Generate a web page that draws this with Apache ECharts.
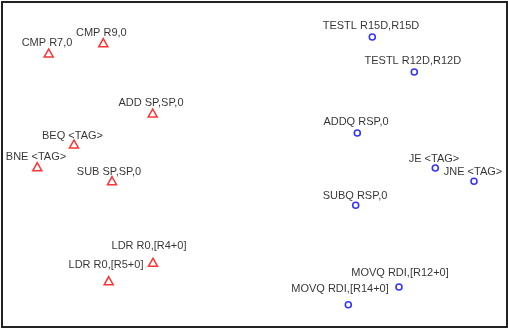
<!DOCTYPE html>
<html>
<head>
<meta charset="utf-8">
<script src="https://cdn.jsdelivr.net/npm/echarts@6/dist/echarts.min.js"></script>
<style>
  html, body { margin: 0; padding: 0; background: #fff; }
  #main { width: 508px; height: 330px; }
</style>
</head>
<body>
<div id="main"></div>
<script>
// ARM instructions (red triangles)
var armNames = ['CMP R7,0', 'CMP R9,0', 'ADD SP,SP,0', 'BEQ <TAG>', 'BNE <TAG>', 'SUB SP,SP,0', 'LDR R0,[R4+0]', 'LDR R0,[R5+0]']
var armX = [46.7, 101.3, 150.7, 72, 35.3, 110, 151, 106.7]
var armY = [274, 284.3, 214, 183, 160.3, 146.3, 64.7, 46.3]
var armLabelX = [45, 99.3, 149, 70.5, 34, 107, 147, 104]
var armLabelY = [284, 294, 224, 191.5, 170, 155.3, 81.3, 62.3]

// x86 instructions (blue circles)
var x86Names = ['TESTL R15D,R15D', 'TESTL R12D,R12D', 'ADDQ RSP,0', 'JE <TAG>', 'JNE <TAG>', 'SUBQ RSP,0', 'MOVQ RDI,[R12+0]', 'MOVQ RDI,[R14+0]']
var x86X = [370.3, 412.3, 355.3, 433.3, 472, 353.7, 397, 346.3]
var x86Y = [290, 255, 194, 159, 145.7, 121.7, 40, 22.3]
var x86LabelX = [369, 410.8, 354, 432, 471, 353, 398, 338]
var x86LabelY = [301.5, 266.5, 204.7, 168.3, 155, 131.3, 54.3, 37.7]

function points(xs, ys) {
    return xs.map(function (x, i) { return [x, ys[i]] })
}
function labelPoints(xs, ys, names) {
    return xs.map(function (x, i) { return { value: [x, ys[i]], name: names[i] } })
}

var chart = echarts.init(document.getElementById('main'))
var labelStyle = {
    show: true,
    position: 'inside',
    formatter: '{b}',
    color: '#000',
    fontSize: 11,
    fontFamily: 'Liberation Sans, Arial, sans-serif',
}
var option = {
    animation: false,
    grid: {
        left: 2,
        right: 1,
        top: 2,
        bottom: 3,
        show: true,
        borderColor: '#222',
        borderWidth: 2,
    },
    xAxis: {
        type: 'value',
        min: 0,
        max: 505,
        show: false,
    },
    yAxis: {
        type: 'value',
        min: 0,
        max: 325,
        show: false,
    },
    series: [
        {
            type: 'scatter',
            symbol: 'triangle',
            symbolSize: [9, 8],
            itemStyle: { color: 'transparent', borderColor: '#ff0000', borderWidth: 1.5 },
            data: points(armX, armY),
            silent: true,
        },
        {
            type: 'scatter',
            symbol: 'circle',
            symbolSize: 6,
            itemStyle: { color: 'transparent', borderColor: '#0000ff', borderWidth: 1.6 },
            data: points(x86X, x86Y),
            silent: true,
        },
        {
            type: 'scatter',
            symbolSize: 1,
            itemStyle: { color: 'transparent' },
            label: labelStyle,
            data: labelPoints(armLabelX, armLabelY, armNames),
            silent: true,
        },
        {
            type: 'scatter',
            symbolSize: 1,
            itemStyle: { color: 'transparent' },
            label: labelStyle,
            data: labelPoints(x86LabelX, x86LabelY, x86Names),
            silent: true,
        },
    ],
}
chart.setOption(option)
</script>
</body>
</html>
